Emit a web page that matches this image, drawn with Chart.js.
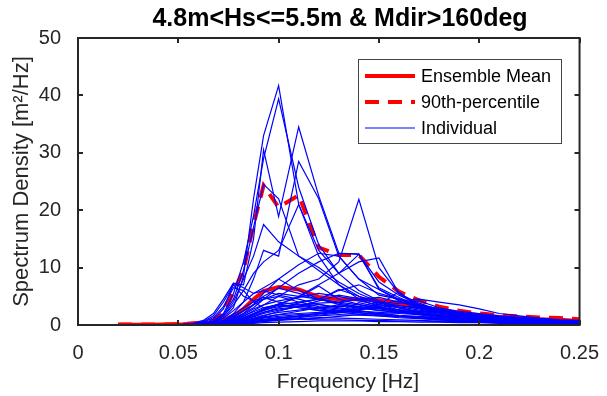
<!DOCTYPE html>
<html>
<head>
<meta charset="utf-8">
<script src="https://cdn.jsdelivr.net/npm/chart.js@4.4.0/dist/chart.umd.min.js"></script>
<style>
  html, body { margin: 0; padding: 0; background: #fff; }
  canvas { display: block; }
</style>
</head>
<body>
<canvas id="chart" width="607" height="396"></canvas>
<script>
// NDBC style frequency bands (Hz)
const freqs = [0.02, 0.0325, 0.0375, 0.0425, 0.0475, 0.0525, 0.0575, 0.0625, 0.0675, 0.0725,
               0.0775, 0.0825, 0.0875, 0.0925, 0.10, 0.11, 0.12, 0.13, 0.14, 0.15,
               0.16, 0.17, 0.18, 0.19, 0.20, 0.21, 0.22, 0.23, 0.24, 0.25];

const ensembleMean = [0.05, 0.05, 0.05, 0.08, 0.1, 0.12, 0.2, 0.3, 0.5, 0.9,
                      1.6, 2.8, 4.5, 5.9, 6.6, 6.2, 4.9, 4.5, 4.5, 4.3,
                      3.8, 3.2, 2.6, 2.1, 1.7, 1.4, 1.2, 1.0, 0.9, 0.7];

const percentile90 = [0.1, 0.1, 0.1, 0.1, 0.15, 0.2, 0.3, 0.4, 0.8, 2.0,
                      5.8, 9.5, 17.5, 24.3, 20.5, 22.6, 13.5, 12.2, 12.2, 8.4,
                      5.8, 4.3, 3.2, 2.5, 2.0, 1.7, 1.5, 1.3, 1.2, 1.0];

const individual = [
  [0,0,0,0,0,0,0.1,0.2,0.5,1.2, 3.0,8.5,22,33,41.7,21,12,7,4.5,3.2, 2.4,1.8,1.3,1.0,0.8,0.6,0.5,0.4,0.3,0.3],
  [0,0,0,0,0,0,0.1,0.3,0.7,2.0, 5.5,11,19,29,39.4,24,14,9,6,4.2, 3.0,2.2,1.6,1.2,0.9,0.7,0.6,0.5,0.4,0.3],
  [0,0,0,0,0,0,0.1,0.3,1.0,2.8, 7.2,7.0,15,30.5,18.9,34.5,22.5,12.5,12.3,7.5, 5.2,3.6,2.6,1.9,1.4,1.1,0.9,0.7,0.6,0.5],
  [0,0,0,0,0,0,0,0.1,0.3,0.8, 2.0,4.0,8.0,13,12,28.5,22,12,8,6.2, 4.5,3.2,2.3,1.7,1.3,1.0,0.8,0.6,0.5,0.4],
  [0,0,0,0,0,0,0.1,0.2,0.6,1.8, 4.5,9.5,17,24.5,22,12,10,7.5,5.5,4.0, 3.0,2.2,1.6,1.2,0.9,0.7,0.6,0.5,0.4,0.3],
  [0,0,0,0,0,0,0.1,0.2,0.5,1.5, 4.0,8.0,12,17.5,14.5,12,9.5,7,5,3.6, 2.6,2.0,1.5,1.1,0.9,0.7,0.5,0.4,0.3,0.3],
  [0,0,0,0,0,0,0,0.1,0.2,0.4, 0.8,1.5,2.5,3.5,5,7,8,11,21.9,10, 5.5,3.5,2.4,1.8,1.3,1.0,0.8,0.6,0.5,0.4],
  [0,0,0,0,0,0,0,0.1,0.3,0.6, 1.2,2.0,3.0,4.5,6.5,9,11,12.5,12.4,6.2, 4.2,2.9,2.1,1.6,1.2,0.9,0.7,0.6,0.5,0.4],
  [0,0,0,0,0,0,0,0,0.1,0.2, 0.5,1.0,1.8,2.5,3.5,5,7,9,11,11.7, 5.5,3.8,2.6,1.9,1.4,1.1,0.9,0.7,0.5,0.4],
  [0,0,0,0,0,0,0,0.1,0.2,0.5, 1.0,2.0,3.5,5.5,8,10.5,12.5,12,8,5.2, 4.5,3.0,2.2,1.6,1.2,0.9,0.7,0.6,0.5,0.4],
  [0,0,0,0,0,0,0.1,0.2,0.6,1.5, 3.5,6.0,9.0,11,13,21,13,9,12.3,6.5, 4.8,3.3,2.4,1.8,1.3,1.0,0.8,0.6,0.5,0.4],
  [0,0,0,0,0,0.1,0.3,0.8,2.0,4.5, 7.3,6.5,5.5,6.0,5.2,4.5,3.6,3.0,2.5,2.0, 1.6,1.3,1.0,0.8,0.6,0.5,0.4,0.3,0.3,0.2],
  [0,0,0,0,0,0.1,0.2,0.6,1.6,4.0, 7.0,5.0,4.2,4.8,4.0,3.5,3.0,2.6,2.2,1.8, 1.5,1.2,0.9,0.7,0.6,0.5,0.4,0.3,0.2,0.2],
  [0,0,0,0,0,0.1,0.2,0.5,1.3,3.2, 6.5,6.0,4.0,3.0,3.5,3.0,2.5,2.2,1.9,1.6, 1.3,1.1,0.9,0.7,0.6,0.5,0.4,0.3,0.2,0.2],
  [0,0,0,0,0,0,0.1,0.2,0.5,1.2, 2.5,4.0,5.5,6.5,8.0,6.0,4.5,3.8,3.2,2.8, 2.4,2.0,1.6,1.3,1.0,0.8,0.7,0.5,0.4,0.3],
  [0,0,0,0,0,0,0,0.1,0.3,0.7, 1.5,2.5,3.5,4.5,5.5,5.0,4.5,4.0,3.5,3.0, 2.5,2.0,1.7,1.4,1.1,0.9,0.7,0.6,0.5,0.4],
  [0,0,0,0,0,0,0,0.1,0.2,0.5, 1.0,1.8,2.8,3.5,4.2,4.8,5.5,5.0,4.2,3.5, 5.8,3.0,2.2,1.7,1.3,1.0,0.8,0.6,0.5,0.4],
  [0,0,0,0,0,0,0,0,0.1,0.3, 0.6,1.2,2.0,2.8,3.5,4.0,4.5,6.0,7.0,5.5, 4.5,3.5,2.8,2.2,1.7,1.3,1.0,0.8,0.6,0.5],
  [0,0,0,0,0,0,0,0.1,0.2,0.4, 0.8,1.3,2.0,2.6,3.2,3.5,3.8,4.0,4.5,4.8, 4.0,3.2,2.5,2.0,1.6,1.2,1.0,0.8,0.6,0.5],
  [0,0,0,0,0,0,0,0,0.1,0.3, 0.6,1.0,1.5,2.2,2.8,3.2,3.6,3.0,2.6,3.5, 3.0,3.5,2.8,2.2,1.8,1.4,1.1,0.9,0.7,0.6],
  [0,0,0,0,0,0,0,0.1,0.2,0.5, 1.0,1.6,2.3,3.0,3.6,3.0,2.6,2.4,2.1,1.8, 1.5,1.3,1.1,0.9,0.7,0.6,0.5,0.4,0.3,0.3],
  [0,0,0,0,0,0,0,0,0.1,0.2, 0.4,0.8,1.2,1.7,2.2,2.6,3.0,3.3,3.0,2.6, 2.2,1.9,1.6,1.3,1.1,0.9,0.7,0.6,0.5,0.4],
  [0,0,0,0,0,0,0,0,0.1,0.2, 0.4,0.7,1.0,1.4,1.8,2.0,2.2,2.5,2.8,3.0, 2.7,2.4,2.1,1.8,1.5,1.2,1.0,0.8,0.6,0.5],
  [0,0,0,0,0,0,0,0,0,0.1, 0.3,0.5,0.8,1.2,1.5,1.8,2.0,2.2,2.4,2.2, 2.0,1.8,1.6,1.4,1.2,1.0,0.8,0.7,0.6,0.5],
  [0,0,0,0,0,0,0,0,0.1,0.2, 0.3,0.5,0.8,1.0,1.3,1.5,1.6,1.8,1.7,1.6, 1.5,1.4,1.2,1.0,0.9,0.8,0.6,0.5,0.4,0.4],
  [0,0,0,0,0,0,0,0,0,0.1, 0.2,0.3,0.5,0.7,0.9,1.1,1.3,1.2,1.1,1.0, 0.9,0.8,0.7,0.6,0.5,0.4,0.4,0.3,0.3,0.2],
  [0,0,0,0,0,0,0,0,0,0.1, 0.2,0.4,0.6,0.8,1.0,1.0,0.9,0.9,0.8,0.8, 0.7,0.7,0.6,0.5,0.5,0.4,0.3,0.3,0.2,0.2],
  [0,0,0,0,0,0,0,0,0,0, 0.1,0.2,0.3,0.4,0.5,0.6,0.7,0.7,0.7,0.6, 0.6,0.5,0.5,0.4,0.4,0.3,0.3,0.2,0.2,0.2],
  [0,0,0,0,0,0,0,0.1,0.3,0.8, 1.8,3.0,4.0,4.5,5.0,4.0,3.2,2.8,2.4,2.0, 1.7,1.5,1.3,1.1,0.9,0.7,0.6,0.5,0.4,0.3],
  [0,0,0,0,0,0,0,0,0.1,0.3, 0.6,1.0,1.6,2.2,3.0,3.8,4.5,3.6,3.0,2.5, 2.2,1.9,1.6,1.4,1.2,1.0,0.8,0.6,0.5,0.4],
  [0,0,0,0,0,0,0,0,0.1,0.3, 0.5,0.9,1.4,2.0,2.6,3.2,4.2,5.2,4.6,3.8, 3.0,2.4,1.9,1.5,1.2,1.0,0.8,0.6,0.5,0.4],
  [0,0,0,0,0,0,0,0,0,0.1, 0.3,0.5,0.9,1.3,1.8,2.4,3.0,3.5,3.2,4.0, 3.4,2.8,2.2,1.8,1.5,1.2,1.0,0.8,0.7,0.6],
  [0,0,0,0,0,0,0,0,0,0.1, 0.2,0.4,0.6,0.9,1.2,1.5,1.9,2.3,2.7,3.0, 3.4,2.9,2.5,2.1,1.8,1.5,1.2,1.0,0.8,0.7],
  [0,0,0,0,0,0,0,0,0,0, 0.1,0.2,0.4,0.6,0.8,1.0,1.2,1.5,1.8,2.0, 2.2,2.4,2.2,2.0,1.7,1.5,1.3,1.1,0.9,0.8],
  [0,0,0,0,0,0,0,0,0.1,0.2, 0.4,0.7,1.1,1.6,2.4,3.3,2.8,2.4,3.9,3.1, 2.6,2.2,1.8,1.5,1.3,1.1,0.9,0.7,0.6,0.5],
  [0,0,0,0,0,0,0,0.1,0.2,0.6, 1.3,2.4,3.6,5.0,6.4,5.5,4.4,6.2,5.0,4.0, 3.2,2.6,2.1,1.7,1.4,1.1,0.9,0.7,0.6,0.5],
  [0,0,0,0,0,0,0,0,0.1,0.3, 0.7,1.2,1.9,2.7,3.7,4.8,6.8,4.5,3.6,2.9, 2.3,1.9,1.5,1.2,1.0,0.8,0.6,0.5,0.4,0.3],
  [0,0,0,0,0,0,0,0,0,0.1, 0.2,0.3,0.5,0.7,1.0,1.3,1.7,2.1,2.6,3.2, 3.8,4.2,3.0,2.4,2.0,1.6,1.3,1.0,0.8,0.7],
  [0,0,0,0,0,0,0,0,0,0.1, 0.2,0.4,0.6,0.9,1.2,1.6,2.0,2.5,3.0,3.6, 4.2,4.5,4.0,3.5,2.8,2.0,1.6,1.2,0.9,0.7]
];

const xTicks = [0, 0.05, 0.1, 0.15, 0.2, 0.25];
const yTicks = [0, 10, 20, 30, 40, 50];

const titleText = '4.8m<Hs<=5.5m & Mdir>160deg';
const xLabel = 'Frequency [Hz]';
const yLabel = 'Spectrum Density [m\u00B2/Hz]';

const FONT = '"Liberation Sans", Arial, Helvetica, sans-serif';
const AXIS_COLOR = '#262626';

function toPoints(vals) {
    return freqs.map((f, i) => ({ x: f, y: vals[i] }));
}

var datasets = individual.map((vals, i) => ({
    label: i == 0 ? 'Individual' : '',
    data: toPoints(vals),
    borderColor: '#0000FF',
    borderWidth: 1.2,
    pointRadius: 0,
    tension: 0
}));
datasets.push({
    label: '90th-percentile',
    data: toPoints(percentile90),
    borderColor: '#FF0000',
    borderWidth: 4,
    borderDash: [14, 9],
    pointRadius: 0,
    tension: 0
});
datasets.push({
    label: 'Ensemble Mean',
    data: toPoints(ensembleMean),
    borderColor: '#FF0000',
    borderWidth: 4,
    pointRadius: 0,
    tension: 0
});

// box, inward ticks, titles and legend, drawn the matlab way
const matlabLook = {
    id: 'matlabLook',
    afterDraw(chart) {
        var ctx = chart.ctx;
        var a = chart.chartArea;
        var xs = chart.scales.x, ys = chart.scales.y;
        ctx.save();

        ctx.strokeStyle = AXIS_COLOR;
        ctx.lineWidth = 2;
        ctx.beginPath();
        xTicks.forEach(t => {
            var px = Math.round(xs.getPixelForValue(t));
            ctx.moveTo(px, a.bottom); ctx.lineTo(px, a.bottom - 5);
            ctx.moveTo(px, a.top); ctx.lineTo(px, a.top + 5);
        });
        yTicks.forEach(t => {
            var py = Math.round(ys.getPixelForValue(t));
            ctx.moveTo(a.left, py); ctx.lineTo(a.left + 5, py);
            ctx.moveTo(a.right, py); ctx.lineTo(a.right - 5, py);
        });
        ctx.stroke();
        ctx.strokeRect(a.left, a.top, a.right - a.left, a.bottom - a.top);

        // legend
        var lx = 358, ly = 59, lw = 203, lh = 84;
        ctx.fillStyle = '#fff';
        ctx.fillRect(lx, ly, lw, lh);
        ctx.lineWidth = 1;
        ctx.strokeStyle = '#444';
        ctx.strokeRect(lx + 0.5, ly + 0.5, lw, lh);
        var rows = [
            { text: 'Ensemble Mean', ds: datasets[datasets.length - 1], y: 76 },
            { text: '90th-percentile', ds: datasets[datasets.length - 2], y: 102 },
            { text: 'Individual', ds: datasets[0], y: 128 }
        ];
        ctx.font = '18px ' + FONT;
        ctx.textBaseline = 'middle';
        ctx.textAlign = 'left';
        rows.forEach(r => {
            ctx.strokeStyle = r.ds.borderColor;
            ctx.lineWidth = r.ds.borderWidth;
            ctx.setLineDash(r.ds.borderDash || []);
            ctx.beginPath();
            ctx.moveTo(365, r.y); ctx.lineTo(415, r.y);
            ctx.stroke();
            ctx.setLineDash([]);
            ctx.fillStyle = '#000';
            ctx.fillText(r.text, 421, r.y + 1);
        });

        // titles
        ctx.fillStyle = '#000';
        ctx.font = 'bold 25px ' + FONT;
        ctx.textAlign = 'center';
        ctx.fillText(titleText, 340, 19);
        ctx.fillStyle = AXIS_COLOR;
        ctx.font = '21px ' + FONT;
        ctx.fillText(xLabel, 348, 382);
        ctx.font = '22px ' + FONT;
        ctx.translate(22, (a.top + a.bottom) / 2);
        ctx.rotate(-Math.PI / 2);
        ctx.fillText(yLabel, 0, 0);
        ctx.restore();
    }
};

new Chart(document.getElementById('chart'), {
    type: 'line',
    data: { datasets: datasets },
    plugins: [matlabLook],
    options: {
        responsive: false,
        animation: false,
        events: [],
        layout: { padding: { top: 38, right: 24, left: 0, bottom: 0 } },
        plugins: {
            legend: { display: false },
            title: { display: false },
            tooltip: { enabled: false }
        },
        scales: {
            x: {
                type: 'linear',
                min: 0,
                max: 0.25,
                afterFit: s => { s.height = 71; },
                afterBuildTicks: s => { s.ticks = xTicks.map(v => ({ value: v })); },
                grid: { display: false },
                border: { display: false },
                ticks: {
                    autoSkip: false,
                    maxRotation: 0,
                    padding: 8,
                    color: AXIS_COLOR,
                    font: { family: FONT, size: 20 },
                    callback: v => String(+v.toFixed(2))
                }
            },
            y: {
                min: 0,
                max: 50,
                afterFit: s => { s.width = 78; },
                afterBuildTicks: s => { s.ticks = yTicks.map(v => ({ value: v })); },
                grid: { display: false },
                border: { display: false },
                ticks: {
                    padding: 9,
                    color: AXIS_COLOR,
                    font: { family: FONT, size: 20 }
                }
            }
        }
    }
});
</script>
</body>
</html>
